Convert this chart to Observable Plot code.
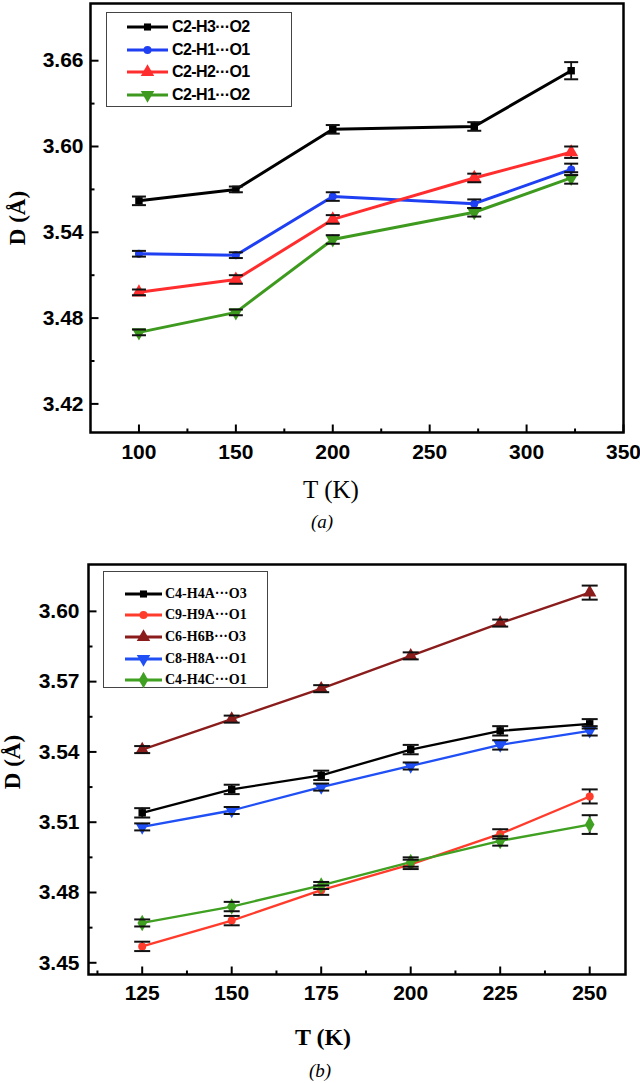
<!DOCTYPE html>
<html><head><meta charset="utf-8">
<script src="https://cdn.jsdelivr.net/npm/d3@7"></script>
<script src="https://cdn.jsdelivr.net/npm/@observablehq/plot@0.6"></script>
<style>
body{margin:0;background:#fff;}
#root{position:relative;width:640px;height:1083px;overflow:hidden;background:#fff;}
.legend{position:absolute;border:1px solid #444;background:#fff;box-sizing:border-box;}
.lrow{position:absolute;left:0;display:flex;align-items:center;white-space:nowrap;}
.ylab{position:absolute;font-family:"Liberation Serif","Times New Roman",serif;font-weight:bold;font-size:23px;transform:translate(-50%,-50%) rotate(-90deg);white-space:nowrap;}
.xlab{position:absolute;font-family:"Liberation Serif","Times New Roman",serif;font-size:24px;transform:translate(-50%,-50%);white-space:nowrap;}
.cap{position:absolute;font-family:"Liberation Serif","Times New Roman",serif;font-style:italic;font-size:19px;transform:translate(-50%,-50%);}
</style></head><body><div id="root"></div>
<script>
// ---------- Panel (a) data ----------
const tempA = [100, 150, 200, 273, 323];
const namesA = ["C2-H3···O2", "C2-H1···O1", "C2-H2···O1", "C2-H1···O2"];
const colorsA = ["#000000", "#1f3ff2", "#ff2d2d", "#3e9a1e"];
const symbolsA = ["square", "circle", "triangle", "triangleDown"];
const dA_H3O2 = [3.562, 3.570, 3.612, 3.614, 3.653];
const eA_H3O2 = [0.003, 0.002, 0.003, 0.003, 0.006];
const dA_H1O1 = [3.525, 3.524, 3.565, 3.560, 3.584];
const eA_H1O1 = [0.002, 0.002, 0.003, 0.003, 0.004];
const dA_H2O1 = [3.498, 3.507, 3.549, 3.578, 3.596];
const eA_H2O1 = [0.002, 0.003, 0.003, 0.003, 0.004];
const dA_H1O2 = [3.470, 3.484, 3.535, 3.554, 3.578];
const eA_H1O2 = [0.002, 0.002, 0.003, 0.003, 0.004];
const xTicksA = [100, 150, 200, 250, 300, 350];
const xMinorA = [125, 175, 225, 275, 325];
const yTicksA = [3.42, 3.48, 3.54, 3.60, 3.66];
const yMinorA = [3.45, 3.51, 3.57, 3.63];

// ---------- Panel (b) data ----------
const tempB = [125, 150, 175, 200, 225, 250];
const namesB = ["C4-H4A···O3", "C9-H9A···O1", "C6-H6B···O3", "C8-H8A···O1", "C4-H4C···O1"];
const colorsB = ["#000000", "#ff3b2c", "#8b1c1c", "#1f4ff5", "#3fa021"];
const symbolsB = ["square", "circle", "triangle", "triangleDown", "diamond"];
const dB_H4AO3 = [3.514, 3.524, 3.530, 3.541, 3.549, 3.552];
const eB_H4AO3 = [0.002, 0.002, 0.002, 0.002, 0.002, 0.002];
const dB_H9AO1 = [3.457, 3.468, 3.481, 3.492, 3.505, 3.521];
const eB_H9AO1 = [0.002, 0.002, 0.002, 0.002, 0.002, 0.003];
const dB_H6BO3 = [3.541, 3.554, 3.567, 3.581, 3.595, 3.608];
const eB_H6BO3 = [0.0015, 0.0015, 0.0015, 0.0015, 0.0015, 0.003];
const dB_H8AO1 = [3.508, 3.515, 3.525, 3.534, 3.543, 3.549];
const eB_H8AO1 = [0.0015, 0.0015, 0.0015, 0.0015, 0.002, 0.002];
const dB_H4CO1 = [3.467, 3.474, 3.483, 3.493, 3.502, 3.509];
const eB_H4CO1 = [0.0015, 0.002, 0.0015, 0.002, 0.002, 0.004];
const xTicksB = [125, 150, 175, 200, 225, 250];
const xMinorB = [112.5, 137.5, 162.5, 187.5, 212.5, 237.5];
const yTicksB = [3.45, 3.48, 3.51, 3.54, 3.57, 3.60];
const yMinorB = [3.465, 3.495, 3.525, 3.555, 3.585];

// ---------- helpers ----------
const sqrt3 = Math.sqrt(3);
const triangleDown = {draw(ctx, size) {
  const y = -Math.sqrt(size / (sqrt3 * 3));
  ctx.moveTo(0, -y * 2); ctx.lineTo(-sqrt3 * y, y); ctx.lineTo(sqrt3 * y, y); ctx.closePath();
}};
function symOf(name) { return name === "triangleDown" ? triangleDown : name; }
function d3Sym(name) {
  return {square: d3.symbolSquare, circle: d3.symbolCircle, triangle: d3.symbolTriangle,
    diamond: d3.symbolDiamond, triangleDown: triangleDown}[name];
}
const seg = (dx, dy) => ({draw(ctx) { ctx.moveTo(0, 0); ctx.lineTo(dx, dy); }});
const capSym = (w) => ({draw(ctx) { ctx.moveTo(-w, 0); ctx.lineTo(w, 0); }});

function rows(temps, names, vals, errs) {
  const out = [];
  names.forEach((n, i) => temps.forEach((t, j) => out.push({series: n, idx: i, T: t, D: vals[i][j], e: errs[i][j]})));
  return out;
}

function panel(o) {
  const data = rows(o.temps, o.names, o.vals, o.errs);
  const marks = [Plot.frame({stroke: "black", strokeWidth: 2.5})];
  o.names.forEach((n, i) => {
    const sub = data.filter(d => d.idx === i);
    marks.push(Plot.line(sub, {x: "T", y: "D", stroke: o.colors[i], strokeWidth: o.lw}));
  });
  marks.push(Plot.ruleX(data, {x: "T", y1: d => d.D - d.e, y2: d => d.D + d.e, stroke: "#111", strokeWidth: 1.8}));
  o.names.forEach((n, i) => {
    const sub = data.filter(d => d.idx === i);
    marks.push(Plot.dot(sub, {x: "T", y: "D", symbol: symOf(o.symbols[i]), r: o.r[i], fill: o.colors[i], stroke: "none"}));
  });
  marks.push(Plot.dot(data, {x: "T", y: d => d.D + d.e, symbol: capSym(o.capw), stroke: "#111", strokeWidth: 2, fill: "none", r: 3}));
  marks.push(Plot.dot(data, {x: "T", y: d => d.D - d.e, symbol: capSym(o.capw), stroke: "#111", strokeWidth: 2, fill: "none", r: 3}));
  // inward ticks
  marks.push(Plot.dot(o.yTicks, {y: d => d, frameAnchor: "left", symbol: seg(8, 0), stroke: "black", strokeWidth: 2, fill: "none", r: 3}));
  marks.push(Plot.dot(o.yMinor, {y: d => d, frameAnchor: "left", symbol: seg(4, 0), stroke: "black", strokeWidth: 2, fill: "none", r: 3}));
  marks.push(Plot.dot(o.xTicks, {x: d => d, frameAnchor: "bottom", symbol: seg(0, -8), stroke: "black", strokeWidth: 2, fill: "none", r: 3}));
  marks.push(Plot.dot(o.xMinor, {x: d => d, frameAnchor: "bottom", symbol: seg(0, -4), stroke: "black", strokeWidth: 2, fill: "none", r: 3}));
  marks.push(Plot.axisY({ticks: o.yTicks, tickSize: 0, tickPadding: o.yPad, tickFormat: d => d.toFixed(2), fontSize: o.fs, fontWeight: "bold", label: null}));
  marks.push(Plot.axisX({ticks: o.xTicks, tickSize: 0, tickPadding: o.xPad, tickFormat: d => String(d), fontSize: o.fs, fontWeight: "bold", label: null}));
  return Plot.plot({
    width: 640, height: o.height,
    marginLeft: o.ml, marginRight: o.mr, marginTop: o.mt, marginBottom: o.mb,
    x: {domain: o.xDomain}, y: {domain: o.yDomain},
    style: {fontFamily: "'Liberation Sans', Arial, sans-serif", color: "black", background: "white", overflow: "visible"},
    marks
  });
}

const root = document.getElementById("root");
function place(el, top, left) { el.style.position = "absolute"; el.style.top = top + "px"; el.style.left = left + "px"; root.appendChild(el); }

const plotA = panel({
  temps: tempA, names: namesA, vals: [dA_H3O2, dA_H1O1, dA_H2O1, dA_H1O2], errs: [eA_H3O2, eA_H1O1, eA_H2O1, eA_H1O2],
  colors: colorsA, symbols: symbolsA, r: [4.2, 4, 5.2, 5.2], lw: 3, capw: 7,
  xTicks: xTicksA, xMinor: xMinorA, yTicks: yTicksA, yMinor: yMinorA,
  xDomain: [75, 350], yDomain: [3.40, 3.70],
  height: 510, ml: 90, mr: 17, mt: 3, mb: 78, fs: 21, yPad: 7, xPad: 12
});
place(plotA, 0, 0);

const plotB = panel({
  temps: tempB, names: namesB, vals: [dB_H4AO3, dB_H9AO1, dB_H6BO3, dB_H8AO1, dB_H4CO1], errs: [eB_H4AO3, eB_H9AO1, eB_H6BO3, eB_H8AO1, eB_H4CO1],
  colors: colorsB, symbols: symbolsB, r: [4.2, 4, 5, 5, 5], lw: 2.3, capw: 8,
  xTicks: xTicksB, xMinor: xMinorB, yTicks: yTicksB, yMinor: yMinorB,
  xDomain: [110, 260], yDomain: [3.445, 3.62],
  height: 515, ml: 88, mr: 15, mt: 24, mb: 81, fs: 21, yPad: 9, xPad: 11
});
place(plotB, 540, 0);

// ---------- legends ----------
function legend(names, colors, symbols, box, rowsY, opt) {
  const div = document.createElement("div");
  div.className = "legend";
  div.style.left = box.x + "px"; div.style.top = box.y + "px";
  div.style.width = box.w + "px"; div.style.height = box.h + "px";
  names.forEach((n, i) => {
    const row = document.createElement("div");
    row.className = "lrow";
    row.style.top = (rowsY[i] - box.y - 10) + "px";
    row.style.height = "20px";
    row.style.left = (opt.lineX - box.x) + "px";
    const ns = "http://www.w3.org/2000/svg";
    const svg = document.createElementNS(ns, "svg");
    svg.setAttribute("width", opt.lineW); svg.setAttribute("height", 20);
    const ln = document.createElementNS(ns, "line");
    ln.setAttribute("x1", 0); ln.setAttribute("x2", opt.lineW); ln.setAttribute("y1", 10); ln.setAttribute("y2", 10);
    ln.setAttribute("stroke", colors[i]); ln.setAttribute("stroke-width", opt.lw);
    svg.appendChild(ln);
    const p = document.createElementNS(ns, "path");
    const r = opt.r[i];
    p.setAttribute("d", d3.symbol(d3Sym(symbols[i]), r * r * Math.PI)());
    p.setAttribute("transform", `translate(${opt.lineW / 2},10)`);
    p.setAttribute("fill", colors[i]);
    svg.appendChild(p);
    row.appendChild(svg);
    const t = document.createElement("span");
    t.textContent = n;
    t.style.marginLeft = opt.gap + "px";
    t.style.font = opt.font;
    t.style.letterSpacing = opt.ls;
    row.appendChild(t);
    div.appendChild(row);
  });
  root.appendChild(div);
}
legend(namesA, colorsA, symbolsA, {x: 106, y: 12, w: 186, h: 95}, [26, 48.5, 71, 93.5],
  {lineX: 126, lineW: 41, lw: 3, gap: 4, r: [4, 4, 5, 5], font: "bold 16px 'Liberation Sans', Arial, sans-serif", ls: "-0.6px"});
legend(namesB, colorsB, symbolsB, {x: 103, y: 571, w: 165, h: 117}, [592.5, 613.5, 635.5, 657.5, 679],
  {lineX: 124, lineW: 37, lw: 3, gap: 3, r: [4, 4, 5, 5, 5], font: "bold 14px 'Liberation Serif', 'Times New Roman', serif", ls: "0px"});

// ---------- axis titles & captions ----------
function txt(cls, text, x, y, extra) {
  const d = document.createElement("div");
  d.className = cls; d.textContent = text;
  d.style.left = x + "px"; d.style.top = y + "px";
  if (extra) Object.assign(d.style, extra);
  root.appendChild(d);
}
txt("ylab", "D (Å)", 18, 218);
txt("ylab", "D (Å)", 13, 762);
txt("xlab", "T (K)", 331, 490, {fontWeight: "normal", fontSize: "25px"});
txt("xlab", "T (K)", 323, 1037, {fontWeight: "bold", fontSize: "24px"});
txt("cap", "(a)", 322, 522);
txt("cap", "(b)", 320, 1071);
</script></body></html>
